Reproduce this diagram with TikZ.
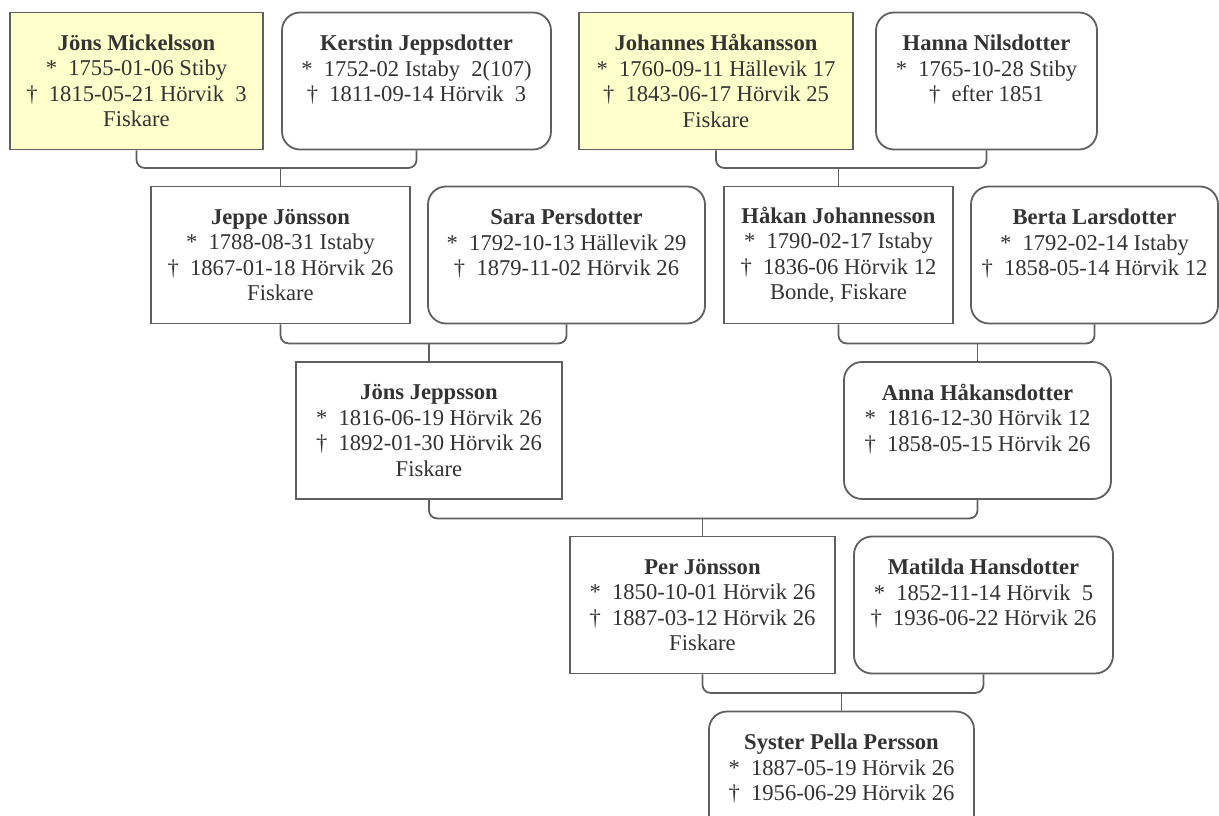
\documentclass[tikz,border=0pt]{standalone}
\usepackage{fontspec}
\setmainfont{Liberation Serif}
\usepackage{tikz}
\definecolor{framegray}{RGB}{95,95,95}
\definecolor{textgray}{RGB}{51,51,51}
\definecolor{lineyellow}{RGB}{255,255,204}

\begin{document}
\begin{tikzpicture}[
    x=1pt, y=-1pt,
    person/.style={draw=framegray, line width=1.8pt, fill=white, text=textgray,
        align=center, inner sep=0pt, minimum height=137pt,
        font={\fontsize{22.6}{25.5}\selectfont}},
    man/.style={person},
    woman/.style={person, rounded corners=18pt},
    direct/.style={fill=lineyellow},
    link/.style={draw=framegray, line width=1.8pt, rounded corners=8pt}
]
\useasboundingbox (0,0) rectangle (1219,816);
\clip (0,0) rectangle (1219,816);

% generation 1
\node[man, direct, minimum width=253pt] (jonsM) at (136.5,81) {\textbf{Jöns Mickelsson}\\ *~~1755-01-06 Stiby\\ †~~1815-05-21 Hörvik~~3\\ Fiskare};
\node[woman, minimum width=269pt] (kerstin) at (416.5,81) {\textbf{Kerstin Jeppsdotter}\\ *~~1752-02 Istaby~~2(107)\\ †~~1811-09-14 Hörvik~~3\\ ~};
\node[man, direct, minimum width=274pt] (johannes) at (716,81) {\textbf{Johannes Håkansson}\\ *~~1760-09-11 Hällevik 17\\ †~~1843-06-17 Hörvik 25\\ Fiskare};
\node[woman, minimum width=221pt] (hanna) at (986.5,81) {\textbf{Hanna Nilsdotter}\\ *~~1765-10-28 Stiby\\ †~~efter 1851\\ ~};

% generation 2
\node[man, minimum width=259pt] (jeppe) at (280.5,255) {\textbf{Jeppe Jönsson}\\ *~~1788-08-31 Istaby\\ †~~1867-01-18 Hörvik 26\\ Fiskare};
\node[woman, minimum width=277pt] (sara) at (566.5,255) {\textbf{Sara Persdotter}\\ *~~1792-10-13 Hällevik 29\\ †~~1879-11-02 Hörvik 26\\ ~};
\node[man, minimum width=229pt] (hakan) at (838.5,255) {\textbf{Håkan Johannesson}\\ *~~1790-02-17 Istaby\\ †~~1836-06 Hörvik 12\\ Bonde, Fiskare};
\node[woman, minimum width=247pt] (berta) at (1094.5,255) {\textbf{Berta Larsdotter}\\ *~~1792-02-14 Istaby\\ †~~1858-05-14 Hörvik 12\\ ~};

% generation 3
\node[man, minimum width=266pt] (jonsJ) at (429,430.5) {\textbf{Jöns Jeppsson}\\ *~~1816-06-19 Hörvik 26\\ †~~1892-01-30 Hörvik 26\\ Fiskare};
\node[woman, minimum width=267pt] (anna) at (977.5,430.5) {\textbf{Anna Håkansdotter}\\ *~~1816-12-30 Hörvik 12\\ †~~1858-05-15 Hörvik 26\\ ~};

% generation 4
\node[man, minimum width=265pt] (per) at (702.5,605) {\textbf{Per Jönsson}\\ *~~1850-10-01 Hörvik 26\\ †~~1887-03-12 Hörvik 26\\ Fiskare};
\node[woman, minimum width=259pt] (matilda) at (983.5,605) {\textbf{Matilda Hansdotter}\\ *~~1852-11-14 Hörvik~~5\\ †~~1936-06-22 Hörvik 26\\ ~};

% generation 5
\node[woman, minimum width=265pt] (pella) at (841.5,780) {\textbf{Syster Pella Persson}\\ *~~1887-05-19 Hörvik 26\\ †~~1956-06-29 Hörvik 26\\ ~};

% couples and children
\draw[link] (jonsM.south) -- ++(0,17.5) coordinate (c1) -| (kerstin.south);
\draw[link] (jeppe.north) -- (jeppe.north |- c1);
\draw[link] (johannes.south) -- ++(0,17.5) coordinate (c2) -| (hanna.south);
\draw[link] (hakan.north) -- (hakan.north |- c2);

\draw[link] (jeppe.south) -- ++(0,19) coordinate (c3) -| (sara.south);
\draw[link] (jonsJ.north) -- (jonsJ.north |- c3);
\draw[link] (hakan.south) -- ++(0,19) coordinate (c4) -| (berta.south);
\draw[link] (anna.north) -- (anna.north |- c4);

\draw[link] (jonsJ.south) -- ++(0,18.5) coordinate (c5) -| (anna.south);
\draw[link] (per.north) -- (per.north |- c5);

\draw[link] (per.south) -- ++(0,18.5) coordinate (c6) -| (matilda.south);
\draw[link] (pella.north) -- (pella.north |- c6);
\end{tikzpicture}
\end{document}
